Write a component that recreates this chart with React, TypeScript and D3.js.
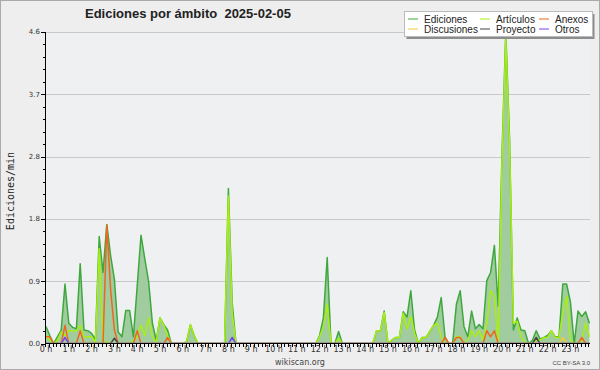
import React from 'react';
import * as d3 from 'd3';

// 10-minute samples, 144 per day (rows = hours)
const EDICIONES: number[] = [
  0.25, 0.12, 0, 0.1, 0.2, 0.88,
  0.3, 0.24, 0.22, 1.18, 0.2, 0.19,
  0.15, 0.06, 1.58, 1.05, 1.76, 1.3,
  0.95, 0.17, 0.1, 0.49, 0.49, 0.1,
  0.85, 1.6, 1.25, 0.92, 0.3, 0.05,
  0.38, 0.28, 0.2, 0, 0, 0,
  0, 0.03, 0.28, 0.12, 0, 0,
  0, 0, 0, 0, 0, 0,
  2.29, 0.6, 0, 0, 0, 0,
  0, 0, 0, 0, 0, 0,
  0, 0, 0, 0, 0, 0,
  0, 0, 0, 0, 0, 0,
  0.12, 0.38, 1.27, 0, 0, 0.18,
  0, 0, 0, 0, 0, 0,
  0, 0, 0, 0.19, 0.19, 0.48,
  0, 0.05, 0.09, 0.09, 0.47, 0.39,
  0.78, 0.2, 0, 0.09, 0.09, 0.18,
  0.27, 0.39, 0.68, 0.1, 0, 0,
  0.58, 0.78, 0.25, 0.1, 0.48, 0.22,
  0.28, 0.22, 0.93, 1.05, 1.45, 0.55,
  2.8, 4.6, 3.0, 0.2, 0.38, 0.2,
  0.19, 0, 0.05, 0.19, 0.07, 0.09,
  0.12, 0.19, 0.1, 0.1, 0.88, 0.88,
  0.62, 0, 0.48, 0.4, 0.47, 0.3,
];

const ARTICULOS: number[] = [
  0.12, 0.05, 0, 0.05, 0.17, 0.12,
  0.19, 0.19, 0.19, 0.27, 0.1, 0.1,
  0.1, 0.02, 1.4, 0, 0.03, 0,
  0, 0, 0, 0, 0, 0.05,
  0.1, 0.27, 0.12, 0.38, 0.1, 0.02,
  0.38, 0.27, 0.12, 0, 0, 0,
  0, 0.03, 0.28, 0.12, 0, 0,
  0, 0, 0, 0, 0, 0,
  2.18, 0.45, 0, 0, 0, 0,
  0, 0, 0, 0, 0, 0,
  0, 0, 0, 0, 0, 0,
  0, 0, 0, 0, 0, 0,
  0.1, 0.25, 0.58, 0, 0, 0.08,
  0, 0, 0, 0, 0, 0,
  0, 0, 0, 0.19, 0.19, 0.46,
  0, 0.05, 0.09, 0.09, 0.45, 0.22,
  0.4, 0.15, 0, 0.09, 0.09, 0.18,
  0.27, 0.3, 0.1, 0, 0, 0,
  0.1, 0.1, 0, 0.05, 0.19, 0.1,
  0.19, 0.05, 0.3, 0.78, 0.7, 0,
  2.7, 4.5, 2.9, 0.3, 0.33, 0.1,
  0.02, 0, 0, 0.05, 0.05, 0.09,
  0.09, 0.19, 0.09, 0.09, 0.45, 0.7,
  0.05, 0, 0, 0.05, 0.3, 0.1,
];

const ANEXOS: number[] = [
  0.1, 0.1, 0, 0, 0, 0.27,
  0, 0, 0, 0.19, 0, 0,
  0, 0, 0, 0, 1.75, 0.8,
  0.2, 0, 0, 0, 0, 0,
  0.19, 0, 0, 0, 0, 0,
  0, 0, 0.09, 0, 0, 0,
  0, 0, 0, 0, 0, 0,
  0, 0, 0, 0, 0, 0,
  0, 0, 0, 0, 0, 0,
  0, 0, 0, 0, 0, 0,
  0, 0, 0, 0, 0, 0,
  0, 0, 0, 0, 0, 0,
  0, 0, 0, 0, 0, 0,
  0, 0, 0, 0, 0, 0,
  0, 0, 0, 0, 0, 0,
  0, 0, 0, 0, 0, 0,
  0, 0, 0, 0, 0, 0,
  0, 0, 0, 0.09, 0, 0,
  0.09, 0.09, 0, 0, 0, 0,
  0, 0, 0.19, 0.1, 0.19, 0,
  0, 0, 0, 0, 0, 0,
  0, 0, 0, 0, 0, 0,
  0, 0, 0, 0, 0, 0,
  0, 0, 0, 0.09, 0, 0,
];

const DISCUSIONES: number[] = [
  0, 0, 0, 0, 0, 0,
  0, 0, 0, 0, 0, 0,
  0, 0, 0, 0, 0, 0,
  0, 0, 0, 0, 0, 0,
  0, 0, 0, 0, 0, 0,
  0, 0, 0, 0, 0, 0,
  0, 0, 0, 0, 0, 0,
  0, 0, 0, 0, 0, 0,
  0, 0, 0, 0, 0, 0,
  0, 0, 0, 0, 0, 0,
  0, 0, 0, 0, 0, 0,
  0, 0, 0, 0, 0, 0,
  0, 0, 0, 0, 0, 0,
  0, 0, 0, 0, 0, 0,
  0, 0, 0, 0, 0, 0,
  0, 0, 0, 0, 0, 0,
  0, 0, 0, 0, 0, 0,
  0, 0, 0, 0, 0, 0,
  0, 0, 0, 0, 0, 0,
  0, 0, 0, 0, 0, 0,
  0, 0, 0, 0, 0, 0,
  0, 0, 0, 0, 0, 0,
  0, 0, 0, 0, 0.09, 0,
  0, 0, 0, 0, 0, 0,
];

const PROYECTO: number[] = [
  0, 0, 0, 0, 0, 0,
  0, 0, 0, 0, 0, 0,
  0, 0, 0, 0, 0, 0,
  0.08, 0, 0, 0, 0, 0,
  0, 0, 0, 0, 0, 0,
  0, 0, 0, 0, 0, 0,
  0, 0, 0, 0, 0, 0,
  0, 0, 0, 0, 0, 0,
  0, 0, 0, 0, 0, 0,
  0, 0, 0, 0, 0, 0,
  0, 0, 0, 0, 0, 0,
  0, 0, 0, 0, 0, 0,
  0, 0, 0, 0, 0, 0,
  0, 0, 0, 0, 0, 0,
  0, 0, 0, 0, 0, 0,
  0, 0, 0, 0, 0, 0,
  0, 0, 0, 0, 0, 0,
  0, 0, 0, 0, 0, 0,
  0, 0, 0, 0, 0, 0,
  0, 0, 0, 0, 0, 0,
  0, 0, 0, 0, 0, 0,
  0, 0, 0, 0.09, 0, 0,
  0, 0, 0, 0, 0, 0,
  0, 0, 0, 0, 0, 0,
];

const OTROS: number[] = [
  0, 0, 0, 0, 0, 0.09,
  0, 0, 0, 0, 0, 0,
  0, 0, 0, 0, 0, 0,
  0, 0, 0, 0, 0, 0,
  0, 0, 0, 0, 0, 0,
  0, 0, 0, 0, 0, 0,
  0, 0, 0, 0, 0, 0,
  0, 0, 0, 0, 0, 0,
  0, 0.09, 0, 0, 0, 0,
  0, 0, 0, 0, 0, 0,
  0, 0, 0, 0, 0, 0,
  0, 0, 0, 0, 0, 0,
  0, 0, 0, 0, 0, 0,
  0, 0, 0, 0, 0, 0,
  0, 0, 0, 0, 0, 0,
  0, 0, 0, 0, 0, 0,
  0, 0, 0, 0, 0, 0,
  0, 0, 0, 0, 0, 0,
  0, 0, 0, 0, 0, 0,
  0, 0, 0, 0, 0, 0,
  0, 0, 0, 0, 0, 0,
  0, 0, 0, 0, 0, 0,
  0, 0, 0, 0, 0, 0,
  0, 0, 0, 0, 0, 0,
];

const HOUR_LABELS: string[] = [
  '0 h', '1 h', '2 h', '3 h', '4 h', '5 h', '6 h', '7 h', '8 h', '9 h', '10 h', '11 h',
  '12 h', '13 h', '14 h', '15 h', '16 h', '17 h', '18 h', '19 h', '20 h', '21 h', '22 h', '23 h',
];
const Y_TICKS: number[] = [0, 0.92, 1.84, 2.76, 3.68, 4.6];
const Y_TICK_LABELS: string[] = ['0.0', '0.9', '1.8', '2.8', '3.7', '4.6'];
const Y_MAX = 4.6;

const TITLE = 'Ediciones por ámbito  2025-02-05';

const SERIES = [
  { name: 'Ediciones', data: EDICIONES, color: '#3ea83e' },
  { name: 'Artículos', data: ARTICULOS, color: '#aaee11' },
  { name: 'Anexos', data: ANEXOS, color: '#ee6622' },
  { name: 'Discusiones', data: DISCUSIONES, color: '#eecc33' },
  { name: 'Proyecto', data: PROYECTO, color: '#444444' },
  { name: 'Otros', data: OTROS, color: '#7744ee' },
];

const LEGEND_ORDER = [
  ['Ediciones', 'Discusiones'],
  ['Artículos', 'Proyecto'],
  ['Anexos', 'Otros'],
];

export default function App() {
  const left = 46;
  const right = 590;
  const top = 32;
  const bottom = 343;
  const x = d3.scaleLinear().domain([0, 144]).range([left, left + 144 * 3.8]);
  const y = d3.scaleLinear().domain([0, Y_MAX]).range([bottom + 0.6, top]);

  const area = d3.area<number>().x((_, i) => x(i)).y0(y(0)).y1((d) => y(d));
  const line = d3.line<number>().x((_, i) => x(i)).y((d) => y(d));

  const minor = d3.range(0, 26).map((k) => (k * Y_MAX) / 25);
  const xTicks = d3.range(0, 144);
  const colorOf = (n: string) => SERIES.find((s) => s.name === n)!.color;
  const legendCols = [408, 480, 539];

  return (
    <svg width={600} height={370} style={{ position: 'absolute', left: 0, top: 0, display: 'block' }}>
      <defs>
        <clipPath id="plotclip">
          <rect x={left - 2} y={0} width={right - left + 6} height={bottom - 0.2} />
        </clipPath>
      </defs>
      <rect x={0} y={0} width={600} height={370} fill="#eeeeee" />
      <rect x={0.5} y={0.5} width={599} height={369} fill="none" stroke="#aaaaaa" />
      <rect x={left} y={top} width={right - left} height={bottom - top} fill="#eff0f2" />

      {Y_TICKS.slice(1).map((t) => (
        <line key={t} x1={left} x2={right} y1={Math.round(y(t)) + 0.5} y2={Math.round(y(t)) + 0.5} stroke="#c9c9cc" />
      ))}

      <g clipPath="url(#plotclip)">
        <path d={area(EDICIONES) || ''} fill="#a0cca0" />
        {SERIES.map((s) => (
          <path key={s.name} d={line(s.data) || ''} fill="none" stroke={s.color} strokeWidth={1.5} strokeLinejoin="round" />
        ))}
      </g>

      {/* axes */}
      <line x1={left - 0.5} x2={left - 0.5} y1={top} y2={bottom + 1} stroke="#000" />
      <line x1={left - 0.5} x2={right} y1={bottom + 0.5} y2={bottom + 0.5} stroke="#000" />
      {minor.map((t, k) => (
        <line key={k} x1={left - (k % 5 === 0 ? 5 : 3)} x2={left} y1={Math.round(y(t)) + 0.5} y2={Math.round(y(t)) + 0.5} stroke="#000" />
      ))}
      {Y_TICKS.map((t, k) => (
        <text key={t} x={40} y={y(t)} dy="0.35em" textAnchor="end" fontFamily="DejaVu Sans" fontSize={7} fill="#333">
          {Y_TICK_LABELS[k]}
        </text>
      ))}
      {xTicks.map((i) => (
        <line key={i} x1={Math.round(x(i)) - 0.5} x2={Math.round(x(i)) - 0.5} y1={bottom} y2={bottom + 4} stroke="#000" />
      ))}
      {HOUR_LABELS.map((h, k) => (
        <text key={h} x={x(k * 6)} y={352} textAnchor="middle" fontFamily="DejaVu Sans" fontSize={8} fill="#333">
          {h}
        </text>
      ))}

      <text x={85} y={18} fontFamily="Liberation Sans, Arial" fontWeight="bold" fontSize={13} fill="#222" style={{ whiteSpace: 'pre' }}>
        {TITLE}
      </text>
      <text transform="translate(14,191) rotate(-90)" textAnchor="middle" fontFamily="DejaVu Sans Mono" fontSize={10} fill="#222">
        Ediciones/min
      </text>

      {/* legend */}
      <rect x={406.5} y={14} width={188} height={25} fill="#8c8c8c" />
      <rect x={404.5} y={11.5} width={188} height={25} fill="#ffffff" stroke="#bbbbbb" />
      {LEGEND_ORDER.map((col, c) =>
        col.map((n, r) => (
          <g key={n}>
            <line x1={legendCols[c]} x2={legendCols[c] + 10} y1={19 + r * 10} y2={19 + r * 10} stroke={colorOf(n)} strokeWidth={1} />
            <text x={legendCols[c] + 16} y={22.7 + r * 10} fontFamily="Liberation Sans, Arial" fontSize={10} fill="#222">
              {n}
            </text>
          </g>
        ))
      )}

      <text x={300} y={365} textAnchor="middle" fontFamily="DejaVu Sans" fontSize={8} fill="#444">
        wikiscan.org
      </text>
      <text x={590} y={365} textAnchor="end" fontFamily="Liberation Sans, Arial" fontSize={6} fill="#444">
        CC BY-SA 3.0
      </text>
    </svg>
  );
}
